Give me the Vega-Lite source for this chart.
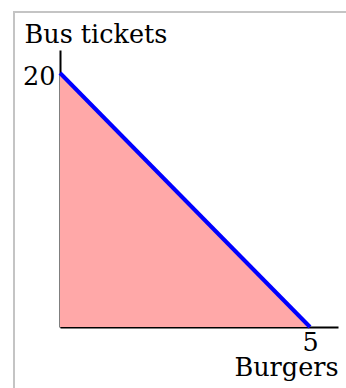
{
  "$schema": "https://vega.github.io/schema/vega-lite/v6.json",
  "width": 278,
  "height": 277,
  "autosize": {"type": "none"},
  "padding": {"left": 60, "top": 50, "right": 8, "bottom": 61},
  "background": "white",
  "config": {"view": {"stroke": null}, "font": "DejaVu Serif"},
  "data": {"values": [{"Burgers": 0, "Tickets": 20}, {"Burgers": 5, "Tickets": 0}]},
  "layer": [
    {
      "mark": {"type": "rect", "filled": false, "stroke": "#c4c4c4", "strokeWidth": 2, "clip": false},
      "encoding": {
        "x": {"datum": -0.92, "type": "quantitative"},
        "x2": {"datum": 8},
        "y": {"datum": 24.8, "type": "quantitative"},
        "y2": {"datum": -10}
      }
    },
    {
      "mark": {"type": "area", "color": "#ffa8a8"},
      "encoding": {
        "x": {"field": "Burgers", "type": "quantitative",
          "scale": {"domain": [0, 5.56], "nice": false, "zero": false},
          "axis": {"values": [5], "ticks": false, "grid": false, "domainColor": "black", "domainWidth": 2,
            "labelFontSize": 25.5, "labelColor": "black", "labelPadding": 3, "labelFont": "DejaVu Serif",
            "title": "Burgers", "titleFontSize": 25.5, "titleFontWeight": "normal", "titleColor": "black",
            "titleAlign": "right", "titleAnchor": null, "titleX": 278, "titleY": 48, "titleBaseline": "alphabetic", "titleFont": "DejaVu Serif"}},
        "y": {"field": "Tickets", "type": "quantitative",
          "scale": {"domain": [0, 21.81], "nice": false, "zero": false},
          "axis": {"values": [20], "ticks": false, "grid": false, "domainColor": "black", "domainWidth": 2,
            "labelFontSize": 25.5, "labelColor": "black", "labelPadding": 5, "labelFont": "DejaVu Serif", "labelOffset": 4,
            "title": "Bus tickets", "titleFontSize": 25.5, "titleFontWeight": "normal", "titleColor": "black",
            "titleAngle": 0, "titleAlign": "left", "titleAnchor": null, "titleX": -36, "titleY": -8, "titleBaseline": "alphabetic", "titleFont": "DejaVu Serif"}}
      }
    },
    {
      "mark": {"type": "line", "color": "#0000ff", "strokeWidth": 4},
      "encoding": {
        "x": {"field": "Burgers", "type": "quantitative"},
        "y": {"field": "Tickets", "type": "quantitative"}
      }
    }
  ]
}
